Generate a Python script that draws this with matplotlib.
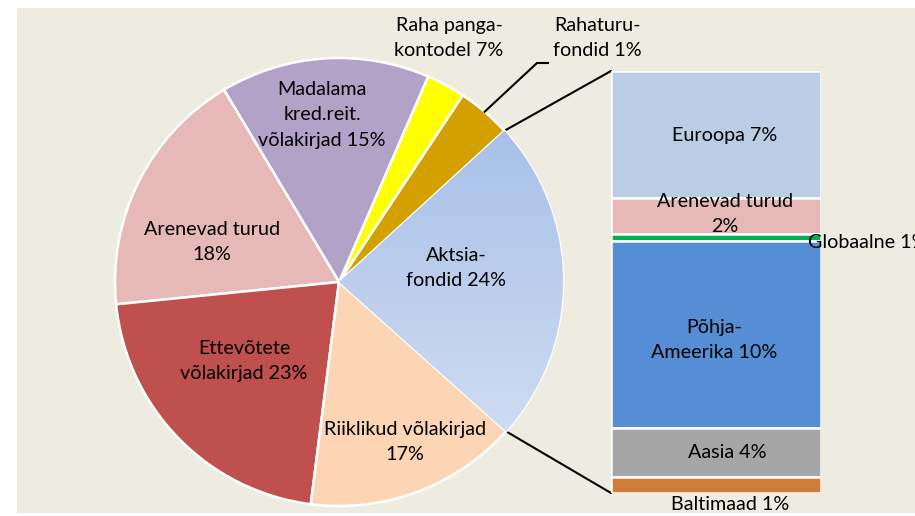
import numpy as np
import matplotlib.pyplot as plt
from matplotlib.patches import Rectangle, ConnectionPatch
from matplotlib.colors import LinearSegmentedColormap

# pie slices (share of the pie), counter-clockwise from Aktsiafondid
pie_names = ["Aktsiafondid", "Rahaturufondid", "Raha pangakontodel", "Madalama kred.reit.",
             "Arenevad turud", "Ettevõtete võlakirjad", "Riiklikud võlakirjad"]
pie_values = [23.4, 3.9, 2.8, 15.1, 18.0, 21.4, 15.4]
pie_colors = ["#B9CDE5", "#D4A000", "#FFFF00", "#B3A2C7", "#E6B9B8", "#C0504D", "#FCD5B5"]

# breakdown of Aktsiafondid, top to bottom
bar_names = ["Euroopa", "Arenevad turud", "Globaalne", "Põhja-Ameerika", "Aasia", "Baltimaad"]
bar_values = [7.0, 2.0, 0.4, 10.3, 2.7, 0.9]
bar_colors = ["#B9CDE5", "#E6B9B8", "#00B050", "#558ED5", "#A6A6A6", "#CF7B39"]

W, H = 915, 516
fig = plt.figure(figsize=(W / 100, H / 100), dpi=100, facecolor="white")
plt.rcParams['font.family'] = ['Lato', 'DejaVu Sans']
fs = 14.2

# beige chart area
fig.add_artist(Rectangle((17 / W, 3 / H), (W - 17) / W, (H - 11) / H,
                         transform=fig.transFigure, facecolor="#EEECE1", edgecolor="none", zorder=-5))

# bar of the breakdown (drawn below the main axes so the labels sit on top)
bx0, bx1, by0, by1 = 611, 821, H - 493, H - 71
ax2 = fig.add_axes([bx0 / W, by0 / H, (bx1 - bx0) / W, (by1 - by0) / H])
ax2.set_zorder(1)
bottoms = np.concatenate([[0], np.cumsum(bar_values)[:-1]])
ax2.bar(0, bar_values, bottom=bottoms, width=1, color=bar_colors, edgecolor="white", linewidth=1.8)
total = sum(bar_values)
ax2.set_xlim(-0.5, 0.5)
ax2.set_ylim(total, 0)
ax2.axis("off")

ax = fig.add_axes([0, 0, 1, 1])
ax.set_zorder(2)
ax.set_facecolor("none")
cx, cy, r = 339, H - 282, 224
start = -41.8
wedges, _ = ax.pie(pie_values, colors=pie_colors, startangle=start, counterclock=True,
                   center=(cx, cy), radius=r,
                   wedgeprops=dict(edgecolor="white", linewidth=1.8))

# gradient fill on the Aktsiafondid slice
grad = LinearSegmentedColormap.from_list("g", ["#D8E2F4", "#9FBAE6"])
img = ax.imshow(np.linspace(0, 1, 256).reshape(-1, 1), cmap=grad, origin="lower",
                extent=(cx, cx + r, cy - r, cy + r), aspect="auto", zorder=1.5)
img.set_clip_path(wedges[0])
ax.set_xlim(0, W)
ax.set_ylim(0, H)
ax.set_aspect("equal")
ax.axis("off")

# connector lines pie -> bar
def pie_point(angle):
    a = np.deg2rad(angle)
    return (cx + r * np.cos(a), cy + r * np.sin(a))

a_top = start + 360 * pie_values[0] / sum(pie_values)
for ang, yb in [(a_top, 0), (start, total)]:
    con = ConnectionPatch(xyA=pie_point(ang), coordsA=ax.transData, xyB=(-0.5, yb),
                          coordsB=ax2.transData, color="black", linewidth=1.5)
    fig.add_artist(con)

# leader line for Rahaturufondid
a_mid = a_top + 180 * pie_values[1] / sum(pie_values)
p = pie_point(a_mid)
ax.plot([p[0], 537, 548], [p[1], H - 63, H - 63], color="black", linewidth=1.5, zorder=3)

# labels
ls = 1.6
labels = [
    ("Aktsia-\nfondid 24%", 456, 268),
    ("Rahaturu-\nfondid 1%", 597, 38),
    ("Raha panga-\nkontodel 7%", 449, 38),
    ("Madalama\nkred.reit.\nvõlakirjad 15%", 322, 115),
    ("Arenevad turud\n18%", 212, 242),
    ("Ettevõtete\nvõlakirjad 23%", 244, 361),
    ("Riiklikud võlakirjad\n17%", 405, 442),
    ("Euroopa 7%", 725, 135),
    ("Arenevad turud\n2%", 725, 214),
    ("Põhja-\nAmeerika 10%", 714, 340),
    ("Aasia 4%", 727, 453),
    ("Baltimaad 1%", 730, 505),
]
for txt, x, y in labels:
    ax.text(x, H - y, txt, ha="center", va="center", fontsize=fs, linespacing=ls, zorder=6)
ax.text(808, H - 243, "Globaalne 1%", ha="left", va="center", fontsize=fs, zorder=6, clip_on=False)

fig.savefig("out.png", dpi=100, facecolor="white")
